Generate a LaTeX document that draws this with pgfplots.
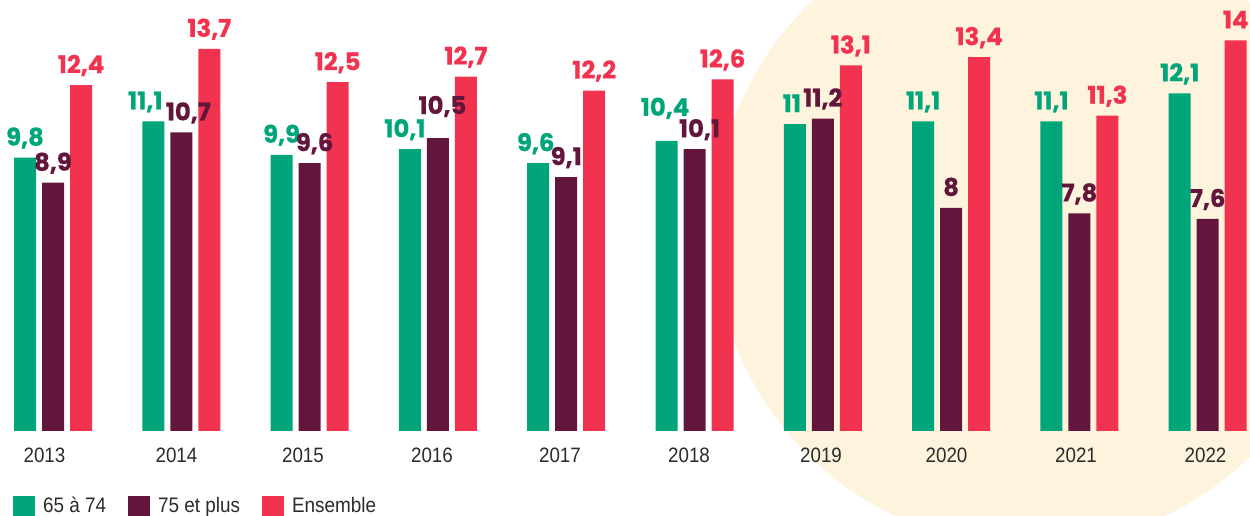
\documentclass[border=0pt]{standalone}
\usepackage{fontspec}
\setmainfont{Liberation Sans}[FakeStretch=0.9]
\newfontfamily\pop{Poppins}[BoldFeatures={FakeBold=0.6}]
\usepackage{pgfplots}
\pgfplotsset{compat=1.18}
\definecolor{cgreen}{HTML}{00A67A}
\definecolor{cpurple}{HTML}{62163B}
\definecolor{cred}{HTML}{F2334F}
\definecolor{cbeige}{HTML}{FEF3DD}
\definecolor{ctext}{HTML}{2B2B2B}
% label nudge: #1 = twice the horizontal shift (pt), #2 = raise (pt), #3 = text
\newcommand\lab[3]{\raisebox{#2pt}{\kern#1pt #3}}
\pgfplotsset{
  sqleg/.style={legend image code/.code={\fill[##1] (0pt,-3pt) rectangle (13.2pt,10.2pt);}},
  mybar/.style={ybar, bar width=13.2pt, bar shift=0pt, draw=none, fill=#1,
    point meta=explicit symbolic, nodes near coords,
    every node near coord/.append style={font=\pop\bfseries\fontsize{14.6}{14.6}\selectfont,
      text=#1, anchor=base, yshift=7.2pt, inner sep=0pt},
    sqleg},
}
\begin{document}
\begin{tikzpicture}
\useasboundingbox (0,0) rectangle (750pt,309.6pt);
% background circle (1 px = 0.6pt; centre at px (1030,230), radius 316 px)
\fill[cbeige] (618pt,171.6pt) circle[radius=189.6pt];
\begin{axis}[at={(0,0)}, anchor=south west, scale only axis,
  width=750pt, height=309.6pt,
  xmin=0, xmax=1250, ymin=-3.047, ymax=15.448,
  clip=false,
  axis line style={draw=none},
  ytick=\empty,
  xtick={44.5,176.5,303,432,560,689,821,946.5,1076,1205.5},
  xticklabels={2013,2014,2015,2016,2017,2018,2019,2020,2021,2022},
  major tick length=0pt, tick style={draw=none},
  xticklabel style={font=\fontsize{12.5}{12.5}\selectfont, text=ctext, anchor=base, yshift=31.8pt},
  legend style={at={(axis cs:13,-2.33)}, anchor=north west, draw=none, fill=none,
    inner sep=0pt, outer sep=0pt, font=\fontsize{12.6}{12.6}\selectfont, text=ctext,
    /tikz/every odd column/.append style={column sep=4.8pt},
    /tikz/every even column/.append style={column sep=13.2pt},
    nodes={inner sep=0pt, anchor=base west}},
  legend columns=3, legend cell align=left,
]
\addplot[mybar=cgreen] coordinates {
 (25,9.8) [9,8] (153.3,11.1) [\lab{-9.6}{0}{11,1}] (281.6,9.9) [9,9] (409.9,10.1) [\lab{-6}{0}{10,1}] (538.2,9.6) [\lab{-3}{0}{9,6}]
 (666.5,10.4) [\lab{-1.8}{7.8}{10,4}] (794.8,11) [\lab{-3.6}{0}{11}] (923.1,11.1) [11,1] (1051.4,11.1) [11,1] (1179.7,12.1) [12,1]};
\addlegendentry{65 à 74}
\addplot[mybar=cpurple] coordinates {
 (53,8.9) [8,9] (181.3,10.7) [\lab{8.4}{0}{10,7}] (309.6,9.6) [\lab{6}{0}{9,6}] (437.9,10.5) [\lab{5.4}{7.2}{10,5}] (566.2,9.1) [9,1]
 (694.5,10.1) [\lab{6}{0}{10,1}] (822.8,11.2) [11,2] (951.1,8) [8] (1079.4,7.8) [7,8] (1207.7,7.6) [7,6]};
\addlegendentry{75 et plus}
\addplot[mybar=cred] coordinates {
 (81,12.4) [12,4] (209.3,13.7) [13,7] (337.6,12.5) [12,5] (465.9,12.7) [12,7] (594.2,12.2) [12,2]
 (722.5,12.6) [12,6] (850.8,13.1) [13,1] (979.1,13.4) [13,4] (1107.4,11.3) [11,3] (1235.7,14) [14]};
\addlegendentry{Ensemble}
\end{axis}
\end{tikzpicture}
\end{document}
